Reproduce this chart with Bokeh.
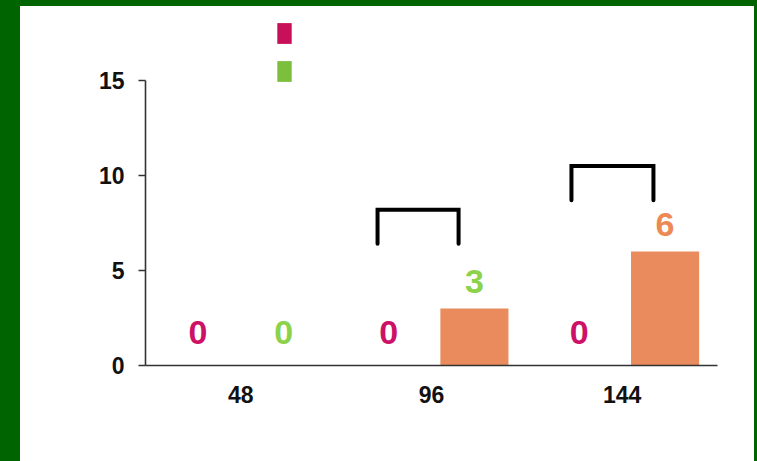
from bokeh.plotting import figure
from bokeh.models import Range1d, FixedTicker, ColumnDataSource, Legend, LegendItem
from bokeh.layouts import column
from bokeh.embed import file_html
from bokeh.resources import INLINE
from bokeh.core.properties import value

# Sampling times (hours) and the two series per time point
hours = ["48", "96", "144"]
series_a = [0, 0, 0]
series_b = [0, 3, 6]
bar_colors_a = ["#C8105A", "#C8105A", "#C8105A"]
bar_colors_b = ["#7CBF3C", "#E98B5C", "#E98B5C"]
label_colors_a = ["#CC1166", "#CC1166", "#CC1166"]
label_colors_b = ["#8CD24B", "#8CD24B", "#EC8A55"]

# Significance brackets: group index, horizontal extent around the group, leg bottom and top
bracket_group = [1, 2]
bracket_left = [-0.283, -0.266]
bracket_right = [0.142, 0.164]
bracket_low = [6.4, 8.7]
bracket_high = [8.2, 10.5]

FONT = "Liberation Sans"
DODGE = 0.225
BAR_W = 0.357

centers = [i + 0.5 for i in range(len(hours))]

# The plotting frame runs to the top and right edges of the canvas; the axes
# themselves are bounded so that they stop at the last category and at 15.
p = figure(width=734, height=455, output_backend="svg", toolbar_location=None,
           x_range=Range1d(0, 3.194), y_range=Range1d(0, 18.89),
           min_border_left=125, min_border_right=0, min_border_top=0, min_border_bottom=96,
           border_fill_color=None, background_fill_color=None,
           outline_line_color=None, border_line_color=None)
p.grid.grid_line_color = None

src_a = ColumnDataSource(dict(x=[c - DODGE for c in centers], top=series_a, color=bar_colors_a))
src_b = ColumnDataSource(dict(x=[c + DODGE for c in centers], top=series_b, color=bar_colors_b))
r_a = p.vbar(x="x", top="top", width=BAR_W, source=src_a, fill_color="color", line_color=None)
r_b = p.vbar(x="x", top="top", width=BAR_W, source=src_b, fill_color="color", line_color=None)

# Value labels above each bar
def label_source(xs, vals, colors):
    return ColumnDataSource(dict(
        x=xs, y=vals, text=[str(v) for v in vals], color=colors,
        off=[-33 if v == 0 else -26.5 for v in vals]))

for src in (label_source([c - DODGE for c in centers], series_a, label_colors_a),
            label_source([c + DODGE for c in centers], series_b, label_colors_b)):
    p.text(x="x", y="y", text="text", source=src, text_color="color",
           y_offset="off", text_align="center", text_baseline="alphabetic",
           text_font=value(FONT), text_font_style="bold", text_font_size="34px")

# Brackets
xs, ys = [], []
for g, l, r, lo, hi in zip(bracket_group, bracket_left, bracket_right, bracket_low, bracket_high):
    c = centers[g]
    xs.append([c + l, c + l, c + r, c + r])
    ys.append([lo, hi, hi, lo])
p.multi_line(xs=xs, ys=ys, line_color="black", line_width=4, line_cap="round", line_join="miter")

# Axes
p.xaxis.ticker = FixedTicker(ticks=centers)
p.xaxis.major_label_overrides = {c: h for c, h in zip(centers, hours)}
p.xaxis.bounds = (0, len(hours))
p.yaxis.ticker = FixedTicker(ticks=[0, 5, 10, 15])
p.yaxis.bounds = (0, 15)
for ax in (p.xaxis, p.yaxis):
    ax.axis_line_color = "#333333"
    ax.axis_line_width = 1.6
    ax.major_tick_line_color = "#333333"
    ax.major_tick_line_width = 1.6
    ax.minor_tick_line_color = None
    ax.major_label_text_font = FONT
    ax.major_label_text_font_style = "bold"
    ax.major_label_text_font_size = "23px"
    ax.major_label_text_color = "#111111"
p.yaxis.major_tick_out = 7
p.yaxis.major_tick_in = 0
p.yaxis.major_label_standoff = 14
p.xaxis.major_tick_out = 0
p.xaxis.major_tick_in = 0
p.xaxis.major_label_standoff = 20

legend = Legend(items=[LegendItem(label=" ", renderers=[r_a], index=0),
                       LegendItem(label=" ", renderers=[r_b], index=0)],
                location=(130, 281), orientation="vertical",
                glyph_width=18, glyph_height=26, spacing=12, padding=0, margin=0,
                label_width=0, label_height=26, label_standoff=0,
                label_text_font_size="1px",
                border_line_color=None, background_fill_alpha=0)
p.add_layout(legend)

# White panel inside a dark green frame
panel = column(p, styles={"background-color": "white"})
page = column(panel, styles={"background-color": "#006400",
                             "padding-left": "20px", "padding-top": "6px",
                             "padding-right": "3px"})

open("out.html", "w").write(file_html(page, INLINE))
